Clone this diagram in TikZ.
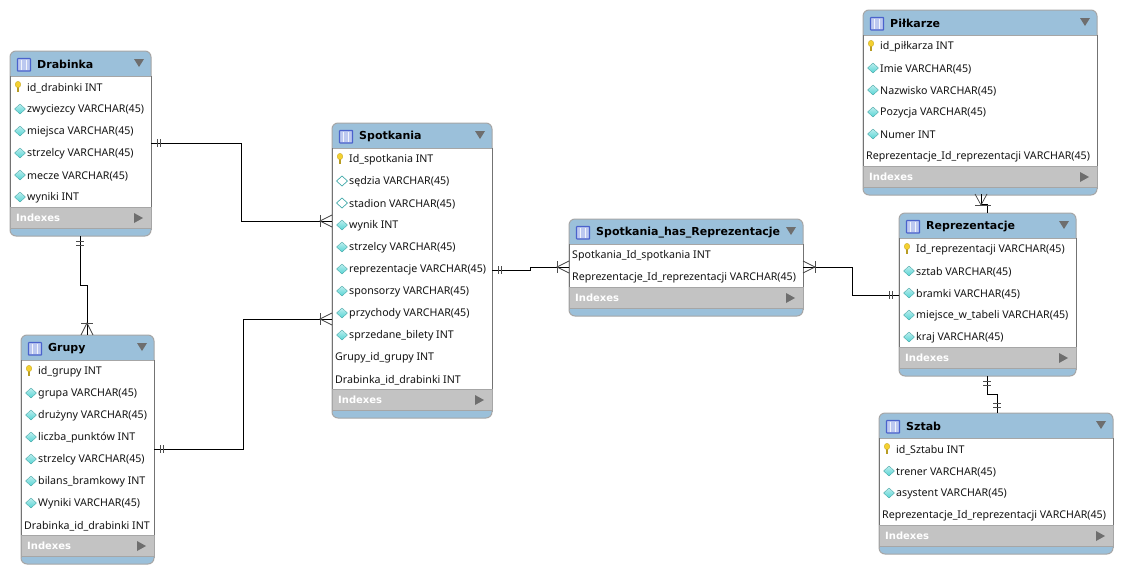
\documentclass[tikz,border=0pt]{standalone}
\usepackage{fontspec}
\setmainfont{Noto Sans}
\newfontfamily\boldf{DejaVu Sans}
\usetikzlibrary{calc}
\definecolor{hdr}{HTML}{9BC0DA}
\definecolor{edgec}{HTML}{A6A6A6}
\definecolor{idx}{HTML}{C3C3C3}
\definecolor{arr}{HTML}{6E6E6E}
\definecolor{icb}{HTML}{4A62CC}
\definecolor{icf}{HTML}{BCC8F0}
\definecolor{dia}{HTML}{55D4D4}
\definecolor{keyc}{HTML}{F4D030}
\tikzset{
  x=1pt,y=-1pt,
  outer/.style={draw=edgec,line width=1pt,fill=hdr,rounded corners=6pt,inner sep=0pt,outer sep=0pt,anchor=north west},
  rowtxt/.style={anchor=west,inner sep=0pt,font=\fontsize{10.65}{12}\selectfont,text=black!92},
  ttl/.style={anchor=west,inner sep=0pt,font=\boldf\fontsize{11}{14}\selectfont\bfseries},
  idxtxt/.style={anchor=west,inner sep=0pt,text=white,font=\boldf\fontsize{10}{13}\selectfont\bfseries},
  rel/.style={line width=1pt,black},
  barm/.style={line width=1pt,black!70},
  crowm/.style={line width=.7pt,black!75},
}
\newcommand{\ick}[2]{%
  \fill[keyc!75!black] (#1+7,#2-1) rectangle (#1+9.2,#2+5);
  \fill[keyc,draw=keyc!80!black,line width=.3pt] (#1+8,#2-2.5) ellipse (2.8 and 3.2);}
\newcommand{\icd}[2]{%
  \shade[top color=dia!40!white,bottom color=dia,draw=dia!75!black,line width=.3pt] (#1+10,#2-5)--(#1+15.5,#2)--(#1+10,#2+5)--(#1+4.5,#2)--cycle;}
\newcommand{\ico}[2]{%
  \fill[white,draw=dia!80!black,line width=.7pt] (#1+10,#2-5)--(#1+15.5,#2)--(#1+10,#2+5)--(#1+4.5,#2)--cycle;}
\newcommand{\icn}[2]{}
% \entity{name}{x0}{x1}{ytop}{title}{nrows}{rows}
\newcommand{\entity}[7]{%
  \pgfmathsetmacro{\ew}{#3-#2}
  \pgfmathsetmacro{\eh}{53+22*#6}
  \pgfmathsetmacro{\eb}{#4+25+22*#6-1}
  \node[outer,minimum width=\ew pt,minimum height=\eh pt] (#1) at (#2,#4) {};
  \fill[white] (#2+.5,#4+25) rectangle (#3-.5,\eb);
  \fill[idx] (#2+.5,\eb) rectangle (#3-.5,\eb+21);
  \draw[edgec,line width=1pt] (#2,#4+25) -- (#3,#4+25);
  \draw[edgec,line width=.8pt] (#2,\eb) -- (#3,\eb);
  \draw[edgec,line width=.8pt] (#2,\eb+21) -- (#3,\eb+21);
  \draw[black!55,line width=.8pt] (#2,#4+25) -- (#2,\eb) (#3,#4+25) -- (#3,\eb);
  \draw[edgec,line width=1pt] (#2,\eb) -- (#2,\eb+23) (#3,\eb) -- (#3,\eb+23);
  \fill[icf,draw=icb,line width=1.2pt,rounded corners=.6pt] (#2+7.5,#4+7.5) rectangle (#2+20.5,#4+20);
  \draw[white!80!icf,line width=.8pt] (#2+11.8,#4+9) -- (#2+11.8,#4+19.4) (#2+16.2,#4+9) -- (#2+16.2,#4+19.4);
  \node[ttl] (#1-t) at (#2+27,#4+13.5) {#5};
  \fill[arr] (#3-17,#4+8) -- (#3-7,#4+8) -- (#3-12,#4+16) -- cycle;
  \node[idxtxt] (#1-i) at (#2+6,\eb+10.5) {Indexes};
  \fill[arr] (#3-17,\eb+6) -- (#3-8,\eb+11) -- (#3-17,\eb+16) -- cycle;
  \foreach \t/\s [count=\i from 0] in {#7}{%
    \pgfmathsetmacro{\yy}{#4+36+22*\i}
    \csname ic\t\endcsname{#2}{\yy}
    \if n\t
      \node[rowtxt] (#1-r\i) at (#2+3,\yy+1) {\s};
    \else
      \node[rowtxt] (#1-r\i) at (#2+17,\yy+1) {\s};
    \fi
  }%
}
\newcommand{\barsH}[3]{\draw[barm] (#1,#3-4) -- (#1,#3+4) (#2,#3-4) -- (#2,#3+4);}
\newcommand{\barsV}[4]{\draw[barm] (#3-#4,#1) -- (#3+#4,#1) (#3-#4,#2) -- (#3+#4,#2);}
% crow on a horizontal line: foot at x #1, apex/bar at x #2
\newcommand{\crowH}[3]{\draw[crowm] (#1,#3-6) -- (#2,#3) -- (#1,#3+6); \draw[barm] (#2,#3-6) -- (#2,#3+6);}
\begin{document}
\begin{tikzpicture}
\useasboundingbox (0,0) rectangle (1122,573);
\fill[white] (0,0) rectangle (1122,573);

\entity{drab}{10}{151}{51}{Drabinka}{6}{k/id\_drabinki INT,d/zwyciezcy VARCHAR(45),d/miejsca VARCHAR(45),d/strzelcy VARCHAR(45),d/mecze VARCHAR(45),d/wyniki INT}
\entity{grupy}{21}{154}{335}{Grupy}{8}{k/id\_grupy INT,d/grupa VARCHAR(45),d/drużyny VARCHAR(45),d/liczba\_punktów INT,d/strzelcy VARCHAR(45),d/bilans\_bramkowy INT,d/Wyniki VARCHAR(45),n/Drabinka\_id\_drabinki INT}
\entity{spot}{332}{492}{123}{Spotkania}{11}{k/Id\_spotkania INT,o/sędzia VARCHAR(45),o/stadion VARCHAR(45),d/wynik INT,d/strzelcy VARCHAR(45),d/reprezentacje VARCHAR(45),d/sponsorzy VARCHAR(45),d/przychody VARCHAR(45),d/sprzedane\_bilety INT,n/Grupy\_id\_grupy INT,n/Drabinka\_id\_drabinki INT}
\entity{has}{569}{803}{219}{Spotkania\_has\_Reprezentacje}{2}{n/Spotkania\_Id\_spotkania INT,n/Reprezentacje\_Id\_reprezentacji VARCHAR(45)}
\entity{repr}{899}{1076}{213}{Reprezentacje}{5}{k/Id\_reprezentacji VARCHAR(45),d/sztab VARCHAR(45),d/bramki VARCHAR(45),d/miejsce\_w\_tabeli VARCHAR(45),d/kraj VARCHAR(45)}
\entity{pil}{863}{1097}{10}{Piłkarze}{6}{k/id\_piłkarza INT,d/Imie VARCHAR(45),d/Nazwisko VARCHAR(45),d/Pozycja VARCHAR(45),d/Numer INT,n/Reprezentacje\_Id\_reprezentacji VARCHAR(45)}
\entity{sztab}{879}{1113}{413}{Sztab}{4}{k/id\_Sztabu INT,d/trener VARCHAR(45),d/asystent VARCHAR(45),n/Reprezentacje\_Id\_reprezentacji VARCHAR(45)}

% connectors
\draw[rel] (drab.east |- 0,143) -- (241,143) -- (241,221) -- (spot.west |- 0,221);
\barsH{157}{160}{143}
\crowH{332}{320}{221}

\draw[rel] (80,236) -- (80,285) -- (87,285) -- (87,335);
\barsV{241}{245}{80}{4}
\draw[crowm] (81,335) -- (87,323) -- (93,335);
\draw[barm] (81,323) -- (93,323);

\draw[rel] (grupy.east |- 0,449) -- (243,449) -- (243,319) -- (spot.west |- 0,319);
\barsH{160}{163}{449}
\crowH{332}{320}{319}

\draw[rel] (spot.east |- 0,270) -- (530,270) -- (530,267) -- (has.west |- 0,267);
\barsH{498}{501}{270}
\crowH{569}{557}{267}

\draw[rel] (has.east |- 0,267) -- (852,267) -- (852,295) -- (repr.west |- 0,295);
\crowH{803}{815}{267}
\barsH{889}{892}{295}

\draw[rel] (981,194) -- (981,204) -- (987,204) -- (987,213);
\draw[crowm] (975,194) -- (981,205) -- (987,194);
\draw[barm] (975,205) -- (991,205);

\draw[rel] (987,376) -- (987,394) -- (997,394) -- (997,413);
\barsV{381}{385}{987}{4}
\barsV{403}{407}{997}{4}
\end{tikzpicture}
\end{document}
